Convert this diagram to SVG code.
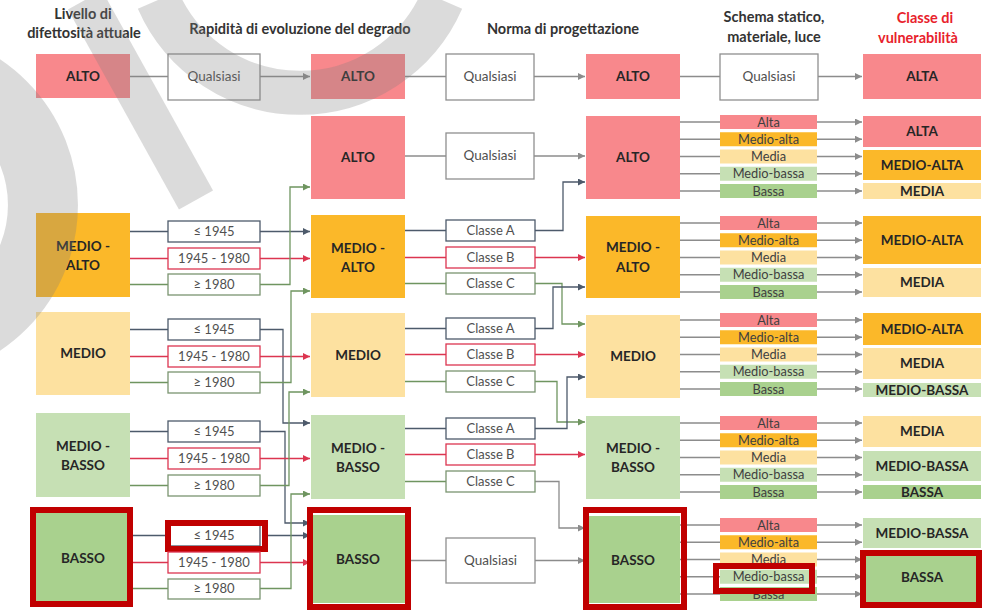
<svg xmlns="http://www.w3.org/2000/svg" width="991" height="610" viewBox="0 0 991 610">
<defs>
<marker id="ad" markerWidth="8" markerHeight="8" refX="7" refY="3.5" orient="auto" markerUnits="userSpaceOnUse"><path d="M0,0 L7,3.5 L0,7 Z" fill="#4d5a6b"/></marker>
<marker id="ar" markerWidth="8" markerHeight="8" refX="7" refY="3.5" orient="auto" markerUnits="userSpaceOnUse"><path d="M0,0 L7,3.5 L0,7 Z" fill="#dc3550"/></marker>
<marker id="ag" markerWidth="8" markerHeight="8" refX="7" refY="3.5" orient="auto" markerUnits="userSpaceOnUse"><path d="M0,0 L7,3.5 L0,7 Z" fill="#6f9560"/></marker>
<marker id="ay" markerWidth="8" markerHeight="8" refX="7" refY="3.5" orient="auto" markerUnits="userSpaceOnUse"><path d="M0,0 L7,3.5 L0,7 Z" fill="#8c8c8c"/></marker>
</defs>
<style>
text{font-family:Lato,"Open Sans","Liberation Sans",sans-serif;text-anchor:middle}
.h{font-size:14.5px;font-weight:700;fill:#333}
.hr{font-size:14.5px;font-weight:700;fill:#e8222c}
.b{font-size:13.5px;font-weight:700;fill:#262626}
.r{font-size:13px;fill:#505050}
.q{font-size:13.5px;fill:#505050}
.s{font-size:12.8px;fill:#404040}
.pk{fill:#f8888c}.or{fill:#fbb829}.ye{fill:#fde1a0}.lg{fill:#c6e0b4}.gr{fill:#a9d18e}
.wb{fill:#fff;stroke:#8f8f8f;stroke-width:1.3}
.bd{fill:#fff;stroke:#4d5a6b;stroke-width:1.3}
.br{fill:#fff;stroke:#dc3550;stroke-width:1.3}
.bg{fill:#fff;stroke:#7a9470;stroke-width:1.3}
.hl{fill:none;stroke:#c00000;stroke-width:6}
.cd,.cr,.cg,.cy{fill:none;stroke-width:1.3}
.cd{stroke:#4d5a6b}.cr{stroke:#dc3550}.cg{stroke:#6f9560}.cy{stroke:#8c8c8c}
.cd.a{marker-end:url(#ad)}.cr.a{marker-end:url(#ar)}.cg.a{marker-end:url(#ag)}.cy.a{marker-end:url(#ay)}
</style>
<rect width="991" height="610" fill="#fff"/>

<g id="headers">
<text class="h" x="83" y="19">Livello di</text>
<text class="h" x="84" y="38">difettosità attuale</text>
<text class="h" x="300" y="34">Rapidità di evoluzione del degrado</text>
<text class="h" x="563" y="34">Norma di progettazione</text>
<text class="h" x="774" y="22">Schema statico,</text>
<text class="h" x="774" y="42">materiale, luce</text>
<text class="hr" x="925" y="23">Classe di</text>
<text class="hr" x="918" y="43">vulnerabilità</text>
</g>

<g id="connectors">
<path class="cy" d="M130,76.5H168"/>
<path class="cy a" d="M260,76.5H310"/>
<path class="cy" d="M405,76.5H446"/>
<path class="cy a" d="M534,76.5H585"/>
<path class="cy" d="M680,76.5H720"/>
<path class="cy a" d="M818,76.5H862"/>
<path class="cd" d="M130,231.5H168"/><path class="cr" d="M130,258.5H168"/><path class="cg" d="M130,284.5H168"/>
<path class="cd" d="M130,329.5H168"/><path class="cr" d="M130,356.5H168"/><path class="cg" d="M130,382.5H168"/>
<path class="cd" d="M130,431.5H168"/><path class="cr" d="M130,458.5H168"/><path class="cg" d="M130,485.5H168"/>
<path class="cd" d="M130,535.5H168"/><path class="cr" d="M130,562.5H168"/><path class="cg" d="M130,588.5H168"/>
<path class="cd a" d="M260,231.5H310"/>
<path class="cr a" d="M260,258.5H310"/>
<path class="cg a" d="M260,284.5H290V187H310"/>
<path class="cd a" d="M260,329.5H283V423H310"/>
<path class="cr a" d="M260,356.5H310"/>
<path class="cg a" d="M260,382.5H291V291H310"/>
<path class="cd a" d="M260,431.5H285V523H310"/>
<path class="cr a" d="M260,458.5H310"/>
<path class="cg a" d="M260,485.5H289V392H310"/>
<path class="cd a" d="M265,535.5H310"/>
<path class="cr a" d="M260,562.5H310"/>
<path class="cg a" d="M260,588.5H291V494H310"/>
<path class="cy" d="M405,156H446"/>
<path class="cd" d="M405,230.5H446"/><path class="cr" d="M405,257.5H446"/><path class="cg" d="M405,283.5H446"/>
<path class="cd" d="M405,328.5H446"/><path class="cr" d="M405,354.5H446"/><path class="cg" d="M405,381.5H446"/>
<path class="cd" d="M405,428.5H446"/><path class="cr" d="M405,454.5H446"/><path class="cg" d="M405,481.5H446"/>
<path class="cy" d="M405,560.5H446"/>
<path class="cy a" d="M534,156H585"/>
<path class="cd a" d="M535,230.5H563V182H585"/>
<path class="cr a" d="M535,257.5H585"/>
<path class="cg a" d="M535,283.5H562V324H585"/>
<path class="cd a" d="M535,328.5H553V287H585"/>
<path class="cr a" d="M535,354.5H585"/>
<path class="cg a" d="M535,381.5H557V422H585"/>
<path class="cd a" d="M535,428.5H567V377H585"/>
<path class="cr a" d="M535,454.5H585"/>
<path class="cy a" d="M535,481.5H559V528H585"/>
<path class="cy a" d="M535,560.5H585"/>
<g class="cy">
<path d="M680,122H720M680,139.25H720M680,156.5H720M680,173.75H720M680,191H720"/>
<path d="M680,223H720M680,240.25H720M680,257.5H720M680,274.75H720M680,292H720"/>
<path d="M680,320H720M680,337.25H720M680,354.5H720M680,371.75H720M680,389H720"/>
<path d="M680,423H720M680,440.25H720M680,457.5H720M680,474.75H720M680,492H720"/>
<path d="M680,525H720M680,542.25H720M680,559.5H720M680,576.75H720M680,594H720"/>
</g>
<g>
<path class="cy a" d="M817,122H862"/><path class="cy a" d="M817,139.25H862"/><path class="cy a" d="M817,156.5H862"/><path class="cy a" d="M817,173.75H862"/><path class="cy a" d="M817,191H862"/>
<path class="cy a" d="M817,223H862"/><path class="cy a" d="M817,240.25H862"/><path class="cy a" d="M817,257.5H862"/><path class="cy a" d="M817,274.75H862"/><path class="cy a" d="M817,292H862"/>
<path class="cy a" d="M817,320H862"/><path class="cy a" d="M817,337.25H862"/><path class="cy a" d="M817,354.5H862"/><path class="cy a" d="M817,371.75H862"/><path class="cy a" d="M817,389H862"/>
<path class="cy a" d="M817,423H862"/><path class="cy a" d="M817,440.25H862"/><path class="cy a" d="M817,457.5H862"/><path class="cy a" d="M817,474.75H862"/><path class="cy a" d="M817,492H862"/>
<path class="cy a" d="M817,525H862"/><path class="cy a" d="M817,542.25H862"/><path class="cy a" d="M817,559.5H862"/><path class="cy a" d="M817,576.75H862"/><path class="cy a" d="M817,594H862"/>
</g>
</g>

<g id="c1-alto"><rect class="pk" x="36" y="54" width="94" height="44"/><text class="b" x="83" y="81">ALTO</text></g>
<g id="c1-medio-alto"><rect class="or" x="36" y="213" width="94" height="84"/><text class="b" x="83" y="251">MEDIO -</text><text class="b" x="83" y="270">ALTO</text></g>
<g id="c1-medio"><rect class="ye" x="36" y="312" width="94" height="83"/><text class="b" x="83" y="358">MEDIO</text></g>
<g id="c1-medio-basso"><rect class="lg" x="36" y="413" width="94" height="84"/><text class="b" x="83" y="451">MEDIO -</text><text class="b" x="83" y="470">BASSO</text></g>
<g id="c1-basso"><rect class="gr" x="36" y="513" width="94" height="88"/><text class="b" x="83" y="562.5">BASSO</text><rect class="hl" x="33" y="510" width="97" height="94"/></g>

<g id="c2-qualsiasi"><rect class="wb" x="168" y="54" width="92" height="46"/><text class="q" x="214" y="81">Qualsiasi</text></g>
<g id="c2-ma-1"><rect class="bd" x="168" y="221" width="92" height="21"/><text class="r" x="214" y="236">≤ 1945</text></g>
<g id="c2-ma-2"><rect class="br" x="168" y="248" width="92" height="21"/><text class="r" x="214" y="263">1945 - 1980</text></g>
<g id="c2-ma-3"><rect class="bg" x="168" y="274" width="92" height="21"/><text class="r" x="214" y="289">≥ 1980</text></g>
<g id="c2-m-1"><rect class="bd" x="168" y="319" width="92" height="21"/><text class="r" x="214" y="334">≤ 1945</text></g>
<g id="c2-m-2"><rect class="br" x="168" y="346" width="92" height="21"/><text class="r" x="214" y="361">1945 - 1980</text></g>
<g id="c2-m-3"><rect class="bg" x="168" y="372" width="92" height="21"/><text class="r" x="214" y="387">≥ 1980</text></g>
<g id="c2-mb-1"><rect class="bd" x="168" y="421" width="92" height="21"/><text class="r" x="214" y="436">≤ 1945</text></g>
<g id="c2-mb-2"><rect class="br" x="168" y="448" width="92" height="21"/><text class="r" x="214" y="463">1945 - 1980</text></g>
<g id="c2-mb-3"><rect class="bg" x="168" y="475" width="92" height="21"/><text class="r" x="214" y="490">≥ 1980</text></g>
<g id="c2-b-1"><rect class="bd" x="168" y="525" width="92" height="21"/><text class="r" x="214" y="540">≤ 1945</text><rect class="hl" x="168" y="523" width="97" height="26"/></g>
<g id="c2-b-2"><rect class="br" x="168" y="552" width="92" height="21"/><text class="r" x="214" y="567">1945 - 1980</text></g>
<g id="c2-b-3"><rect class="bg" x="168" y="579" width="92" height="20"/><text class="r" x="214" y="593">≥ 1980</text></g>

<g id="c3-alto-top"><rect class="pk" x="311" y="54" width="94" height="45"/><text class="b" x="358" y="81">ALTO</text></g>
<g id="c3-alto"><rect class="pk" x="311" y="116" width="94" height="83"/><text class="b" x="358" y="162">ALTO</text></g>
<g id="c3-medio-alto"><rect class="or" x="311" y="215" width="94" height="83"/><text class="b" x="358" y="253">MEDIO -</text><text class="b" x="358" y="272">ALTO</text></g>
<g id="c3-medio"><rect class="ye" x="311" y="313" width="94" height="84"/><text class="b" x="358" y="359.5">MEDIO</text></g>
<g id="c3-medio-basso"><rect class="lg" x="311" y="415" width="94" height="84"/><text class="b" x="358" y="452.5">MEDIO -</text><text class="b" x="358" y="471.5">BASSO</text></g>
<g id="c3-basso"><rect class="gr" x="311" y="515" width="94" height="88"/><text class="b" x="358" y="563.5">BASSO</text><rect class="hl" x="310" y="510" width="98" height="97"/></g>

<g id="c4-qualsiasi-top"><rect class="wb" x="446" y="54" width="88" height="46"/><text class="q" x="490" y="81">Qualsiasi</text></g>
<g id="c4-qualsiasi"><rect class="wb" x="446" y="133" width="88" height="46"/><text class="q" x="490" y="160">Qualsiasi</text></g>
<g id="c4-ma-a"><rect class="bd" x="446" y="220" width="89" height="21"/><text class="r" x="490.5" y="235">Classe A</text></g>
<g id="c4-ma-b"><rect class="br" x="446" y="247" width="89" height="21"/><text class="r" x="490.5" y="262">Classe B</text></g>
<g id="c4-ma-c"><rect class="bg" x="446" y="273" width="89" height="21"/><text class="r" x="490.5" y="288">Classe C</text></g>
<g id="c4-m-a"><rect class="bd" x="446" y="318" width="89" height="21"/><text class="r" x="490.5" y="333">Classe A</text></g>
<g id="c4-m-b"><rect class="br" x="446" y="344" width="89" height="21"/><text class="r" x="490.5" y="359">Classe B</text></g>
<g id="c4-m-c"><rect class="bg" x="446" y="371" width="89" height="21"/><text class="r" x="490.5" y="386">Classe C</text></g>
<g id="c4-mb-a"><rect class="bd" x="446" y="418" width="89" height="21"/><text class="r" x="490.5" y="433">Classe A</text></g>
<g id="c4-mb-b"><rect class="br" x="446" y="444" width="89" height="21"/><text class="r" x="490.5" y="459">Classe B</text></g>
<g id="c4-mb-c"><rect class="bg" x="446" y="471" width="89" height="21"/><text class="r" x="490.5" y="486">Classe C</text></g>
<g id="c4-qualsiasi-basso"><rect class="wb" x="446" y="538" width="89" height="45"/><text class="q" x="490.5" y="565">Qualsiasi</text></g>

<g id="c5-alto-top"><rect class="pk" x="586" y="54" width="94" height="45"/><text class="b" x="633" y="81">ALTO</text></g>
<g id="c5-alto"><rect class="pk" x="586" y="116" width="94" height="83"/><text class="b" x="633" y="162">ALTO</text></g>
<g id="c5-medio-alto"><rect class="or" x="586" y="216" width="94" height="82"/><text class="b" x="633" y="252">MEDIO -</text><text class="b" x="633" y="272">ALTO</text></g>
<g id="c5-medio"><rect class="ye" x="586" y="315" width="94" height="83"/><text class="b" x="633" y="360.5">MEDIO</text></g>
<g id="c5-medio-basso"><rect class="lg" x="586" y="416" width="94" height="83"/><text class="b" x="633" y="452.5">MEDIO -</text><text class="b" x="633" y="471.5">BASSO</text></g>
<g id="c5-basso"><rect class="gr" x="586" y="516" width="94" height="87"/><text class="b" x="633" y="564.5">BASSO</text><rect class="hl" x="586" y="510" width="98" height="97"/></g>

<g id="c6-qualsiasi"><rect class="wb" x="720" y="54" width="98" height="46"/><text class="q" x="769" y="81">Qualsiasi</text></g>
<g id="c6-g1">
<rect class="pk" x="720" y="115" width="97" height="14"/><text class="s" x="768.5" y="126.5">Alta</text>
<rect class="or" x="720" y="132.25" width="97" height="14"/><text class="s" x="768.5" y="143.75">Medio-alta</text>
<rect class="ye" x="720" y="149.5" width="97" height="14"/><text class="s" x="768.5" y="161">Media</text>
<rect class="lg" x="720" y="166.75" width="97" height="14"/><text class="s" x="768.5" y="178.25">Medio-bassa</text>
<rect class="gr" x="720" y="184" width="97" height="14"/><text class="s" x="768.5" y="195.5">Bassa</text>
</g>
<g id="c6-g2">
<rect class="pk" x="720" y="216" width="97" height="14"/><text class="s" x="768.5" y="227.5">Alta</text>
<rect class="or" x="720" y="233.25" width="97" height="14"/><text class="s" x="768.5" y="244.75">Medio-alta</text>
<rect class="ye" x="720" y="250.5" width="97" height="14"/><text class="s" x="768.5" y="262">Media</text>
<rect class="lg" x="720" y="267.75" width="97" height="14"/><text class="s" x="768.5" y="279.25">Medio-bassa</text>
<rect class="gr" x="720" y="285" width="97" height="14"/><text class="s" x="768.5" y="296.5">Bassa</text>
</g>
<g id="c6-g3">
<rect class="pk" x="720" y="313" width="97" height="14"/><text class="s" x="768.5" y="324.5">Alta</text>
<rect class="or" x="720" y="330.25" width="97" height="14"/><text class="s" x="768.5" y="341.75">Medio-alta</text>
<rect class="ye" x="720" y="347.5" width="97" height="14"/><text class="s" x="768.5" y="359">Media</text>
<rect class="lg" x="720" y="364.75" width="97" height="14"/><text class="s" x="768.5" y="376.25">Medio-bassa</text>
<rect class="gr" x="720" y="382" width="97" height="14"/><text class="s" x="768.5" y="393.5">Bassa</text>
</g>
<g id="c6-g4">
<rect class="pk" x="720" y="416" width="97" height="14"/><text class="s" x="768.5" y="427.5">Alta</text>
<rect class="or" x="720" y="433.25" width="97" height="14"/><text class="s" x="768.5" y="444.75">Medio-alta</text>
<rect class="ye" x="720" y="450.5" width="97" height="14"/><text class="s" x="768.5" y="462">Media</text>
<rect class="lg" x="720" y="467.75" width="97" height="14"/><text class="s" x="768.5" y="479.25">Medio-bassa</text>
<rect class="gr" x="720" y="485" width="97" height="14"/><text class="s" x="768.5" y="496.5">Bassa</text>
</g>
<g id="c6-g5">
<rect class="pk" x="720" y="518" width="97" height="14"/><text class="s" x="768.5" y="529.5">Alta</text>
<rect class="or" x="720" y="535.25" width="97" height="14"/><text class="s" x="768.5" y="546.75">Medio-alta</text>
<rect class="ye" x="720" y="552.5" width="97" height="14"/><text class="s" x="768.5" y="564">Media</text>
<rect class="lg" x="720" y="569.75" width="97" height="14"/><text class="s" x="768.5" y="581.25">Medio-bassa</text>
<rect class="gr" x="720" y="587" width="97" height="14"/><text class="s" x="768.5" y="598.5">Bassa</text>
<rect class="hl" x="716" y="566" width="96" height="25"/>
</g>

<g id="c7-top"><rect class="pk" x="863" y="54" width="118" height="45"/><text class="b" x="922" y="81">ALTA</text></g>
<g id="c7-g1">
<rect class="pk" x="863" y="116" width="118" height="31"/><text class="b" x="922" y="136">ALTA</text>
<rect class="or" x="863" y="150" width="118" height="30"/><text class="b" x="922" y="169.5">MEDIO-ALTA</text>
<rect class="ye" x="863" y="183" width="118" height="16"/><text class="b" x="922" y="195.5">MEDIA</text>
</g>
<g id="c7-g2">
<rect class="or" x="863" y="216" width="118" height="48"/><text class="b" x="922" y="244.5">MEDIO-ALTA</text>
<rect class="ye" x="863" y="268" width="118" height="29"/><text class="b" x="922" y="287">MEDIA</text>
</g>
<g id="c7-g3">
<rect class="or" x="863" y="313" width="118" height="32"/><text class="b" x="922" y="333.5">MEDIO-ALTA</text>
<rect class="ye" x="863" y="348" width="118" height="31"/><text class="b" x="922" y="368">MEDIA</text>
<rect class="lg" x="863" y="383" width="118" height="14"/><text class="b" x="922" y="394.5">MEDIO-BASSA</text>
</g>
<g id="c7-g4">
<rect class="ye" x="863" y="416" width="118" height="31"/><text class="b" x="922" y="436">MEDIA</text>
<rect class="lg" x="863" y="451" width="118" height="30"/><text class="b" x="922" y="470.5">MEDIO-BASSA</text>
<rect class="gr" x="863" y="485" width="118" height="14"/><text class="b" x="922" y="496.5">BASSA</text>
</g>
<g id="c7-g5">
<rect class="lg" x="863" y="518" width="118" height="30"/><text class="b" x="922" y="537.5">MEDIO-BASSA</text>
<rect class="gr" x="863" y="553" width="118" height="49"/><text class="b" x="922" y="582">BASSA</text>
<rect class="hl" x="863" y="553" width="116" height="52"/>
</g>

<g id="watermark" fill="none" stroke="#7f7f7f" stroke-opacity="0.28">
<path d="M158,0 A155,155 0 0 0 442,0" stroke-width="44"/>
<path d="M85,0 L196,200" stroke-width="39"/>
<path d="M-97,65 A140,140 0 0 1 -97,345" stroke-width="70"/>
</g>
</svg>
